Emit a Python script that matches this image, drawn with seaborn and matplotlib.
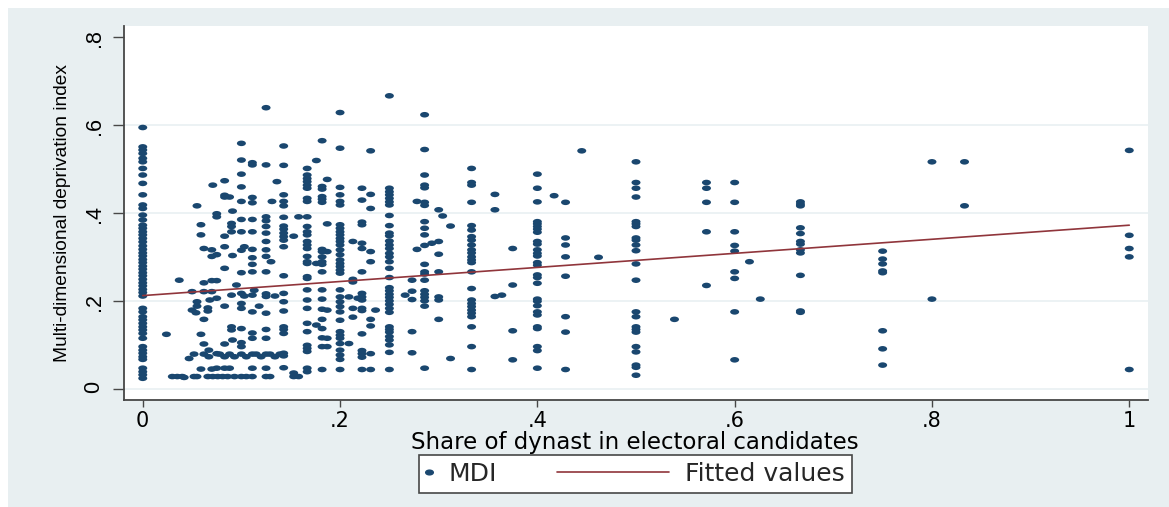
import matplotlib
matplotlib.use("Agg")
import matplotlib.pyplot as plt
import seaborn as sns
import pandas as pd
from matplotlib.path import Path
from matplotlib.transforms import Affine2D
from matplotlib.lines import Line2D
from matplotlib.legend_handler import HandlerLine2D
from matplotlib.patches import Rectangle

# ---------------- data ----------------
mdi_share_0 = [0.595, 0.551, 0.544, 0.536, 0.525, 0.517, 0.502, 0.487, 0.468, 0.442, 0.419, 0.411,
               0.396, 0.385, 0.373, 0.366, 0.358, 0.351, 0.343, 0.335, 0.326, 0.318, 0.310, 0.303,
               0.295, 0.288, 0.280, 0.273, 0.265, 0.258, 0.250, 0.242, 0.235, 0.227, 0.220, 0.212,
               0.184, 0.176, 0.165, 0.158, 0.150, 0.142, 0.135, 0.127, 0.116, 0.097, 0.089, 0.082,
               0.074, 0.068, 0.048, 0.040, 0.033, 0.025]
mdi_share_1_10 = [0.559, 0.521, 0.489, 0.460, 0.427, 0.386, 0.358, 0.316, 0.265, 0.218, 0.195, 0.184,
                  0.138, 0.106, 0.097, 0.080, 0.029]
mdi_share_1_9 = [0.515, 0.510, 0.436, 0.424, 0.386, 0.358, 0.318, 0.299, 0.284, 0.267, 0.214, 0.176,
                 0.128, 0.116, 0.080, 0.048, 0.029]
mdi_share_1_8 = [0.640, 0.510, 0.392, 0.383, 0.370, 0.355, 0.336, 0.317, 0.302, 0.267, 0.217, 0.211,
                 0.173, 0.136, 0.116, 0.080, 0.048, 0.029]
mdi_share_1_7 = [0.553, 0.509, 0.442, 0.427, 0.417, 0.391, 0.371, 0.364, 0.355, 0.347, 0.339, 0.324,
                 0.258, 0.218, 0.199, 0.178, 0.142, 0.136, 0.127, 0.082, 0.076, 0.049]
mdi_share_1_6 = [0.502, 0.487, 0.479, 0.472, 0.464, 0.457, 0.434, 0.427, 0.392, 0.370, 0.358, 0.351,
                 0.336, 0.328, 0.320, 0.302, 0.290, 0.286, 0.256, 0.252, 0.226, 0.203, 0.184, 0.150,
                 0.131, 0.100, 0.093, 0.086, 0.048, 0.040]
mdi_share_2_11 = [0.565, 0.461, 0.455, 0.438, 0.432, 0.425, 0.318, 0.313, 0.301, 0.290, 0.284, 0.267,
                  0.226, 0.205, 0.182, 0.159, 0.138, 0.117, 0.097, 0.045]
mdi_share_1_5 = [0.629, 0.548, 0.459, 0.442, 0.427, 0.419, 0.374, 0.366, 0.358, 0.351, 0.343, 0.336,
                 0.328, 0.317, 0.306, 0.294, 0.286, 0.279, 0.271, 0.264, 0.226, 0.210, 0.199, 0.188,
                 0.176, 0.157, 0.131, 0.123, 0.116, 0.104, 0.089, 0.078, 0.068, 0.045]
mdi_share_2_9 = [0.457, 0.430, 0.380, 0.374, 0.332, 0.320, 0.267, 0.218, 0.210, 0.203, 0.184, 0.179,
                 0.126, 0.088, 0.081, 0.073, 0.045]
mdi_share_1_4 = [0.667, 0.457, 0.449, 0.442, 0.434, 0.426, 0.419, 0.395, 0.372, 0.355, 0.349, 0.337,
                 0.328, 0.320, 0.309, 0.301, 0.290, 0.275, 0.254, 0.231, 0.224, 0.216, 0.209, 0.201,
                 0.193, 0.184, 0.175, 0.142, 0.136, 0.130, 0.120, 0.112, 0.101, 0.084, 0.045]
mdi_share_2_7 = [0.624, 0.545, 0.487, 0.464, 0.458, 0.425, 0.418, 0.381, 0.366, 0.351, 0.327, 0.284,
                 0.267, 0.262, 0.248, 0.224, 0.216, 0.209, 0.201, 0.189, 0.048]
mdi_share_3_10 = [0.408, 0.336, 0.307, 0.267, 0.210, 0.203, 0.159]
mdi_share_1_3 = [0.502, 0.470, 0.464, 0.425, 0.372, 0.362, 0.347, 0.339, 0.328, 0.317, 0.310, 0.301,
                 0.294, 0.288, 0.267, 0.229, 0.203, 0.195, 0.188, 0.180, 0.173, 0.165, 0.142, 0.097,
                 0.045]
mdi_share_3_8 = [0.320, 0.237, 0.133, 0.067]
mdi_share_2_5 = [0.489, 0.457, 0.426, 0.381, 0.376, 0.370, 0.364, 0.357, 0.336, 0.330, 0.317, 0.309,
                 0.303, 0.288, 0.282, 0.260, 0.254, 0.241, 0.205, 0.200, 0.190, 0.176, 0.169, 0.142,
                 0.138, 0.097, 0.088, 0.048]
mdi_share_3_7 = [0.425, 0.344, 0.328, 0.301, 0.257, 0.165, 0.130, 0.045]
mdi_share_1_2 = [0.517, 0.470, 0.457, 0.437, 0.381, 0.376, 0.370, 0.344, 0.339, 0.328, 0.315, 0.285,
                 0.248, 0.176, 0.165, 0.142, 0.136, 0.130, 0.097, 0.085, 0.055, 0.050, 0.032]
mdi_share_4_7 = [0.470, 0.457, 0.425, 0.358, 0.236]
mdi_share_3_5 = [0.470, 0.425, 0.358, 0.327, 0.314, 0.267, 0.252, 0.176, 0.067]
mdi_share_2_3 = [0.426, 0.421, 0.417, 0.367, 0.354, 0.336, 0.330, 0.317, 0.310, 0.259, 0.178, 0.175]
mdi_share_3_4 = [0.314, 0.296, 0.285, 0.269, 0.265, 0.133, 0.092, 0.055]
mdi_share_1 = [0.543, 0.350, 0.320, 0.301, 0.045]

low_share_points = [
    (0.024, 0.125), (0.037, 0.248), (0.030, 0.029), (0.035, 0.029), (0.040, 0.029), (0.042, 0.027),
    (0.052, 0.029), (0.055, 0.029), (0.066, 0.029), (0.071, 0.029), (0.047, 0.070), (0.052, 0.080),
    (0.055, 0.199), (0.050, 0.180), (0.054, 0.174), (0.055, 0.189), (0.050, 0.222), (0.055, 0.417),
    (0.059, 0.374), (0.059, 0.351), (0.062, 0.320), (0.062, 0.242), (0.062, 0.222), (0.062, 0.159),
    (0.059, 0.125), (0.062, 0.103), (0.059, 0.046), (0.062, 0.080), (0.066, 0.185), (0.066, 0.178),
    (0.071, 0.464), (0.070, 0.317), (0.070, 0.302), (0.070, 0.247), (0.070, 0.222), (0.067, 0.089),
    (0.067, 0.074), (0.070, 0.046), (0.083, 0.474), (0.083, 0.441), (0.083, 0.437), (0.088, 0.437),
    (0.075, 0.399), (0.075, 0.392), (0.091, 0.405), (0.090, 0.377), (0.090, 0.370), (0.090, 0.358),
    (0.083, 0.348), (0.075, 0.306), (0.083, 0.324), (0.091, 0.304), (0.103, 0.324), (0.083, 0.275),
    (0.075, 0.247), (0.095, 0.237), (0.090, 0.214), (0.103, 0.212), (0.075, 0.207), (0.083, 0.189),
    (0.068, 0.203), (0.090, 0.142), (0.090, 0.135), (0.083, 0.103), (0.091, 0.112), (0.075, 0.081),
    (0.078, 0.080), (0.083, 0.074), (0.088, 0.080), (0.093, 0.074), (0.105, 0.074), (0.115, 0.080),
    (0.120, 0.074), (0.129, 0.080), (0.134, 0.074), (0.139, 0.080), (0.075, 0.048), (0.083, 0.048),
    (0.088, 0.048), (0.076, 0.029), (0.081, 0.029), (0.086, 0.029), (0.093, 0.029), (0.105, 0.029),
    (0.129, 0.029), (0.113, 0.225), (0.118, 0.189), (0.131, 0.427), (0.130, 0.290), (0.134, 0.212),
    (0.136, 0.472), (0.153, 0.348), (0.153, 0.037), (0.153, 0.029), (0.158, 0.392), (0.158, 0.029),
]
mid_share_points = [
    (0.176, 0.520), (0.176, 0.286), (0.176, 0.146), (0.187, 0.477), (0.187, 0.376), (0.187, 0.313),
    (0.187, 0.180), (0.187, 0.116), (0.187, 0.097), (0.209, 0.210), (0.209, 0.104), (0.213, 0.336),
    (0.213, 0.250), (0.213, 0.244), (0.213, 0.184), (0.213, 0.164), (0.218, 0.207), (0.231, 0.542),
    (0.231, 0.443), (0.231, 0.411), (0.231, 0.313), (0.231, 0.290), (0.231, 0.159), (0.231, 0.144),
    (0.231, 0.081), (0.231, 0.045), (0.236, 0.180), (0.266, 0.214), (0.273, 0.248), (0.273, 0.223),
    (0.273, 0.204), (0.273, 0.131), (0.273, 0.083), (0.278, 0.427), (0.278, 0.318), (0.293, 0.332),
    (0.304, 0.394), (0.312, 0.371), (0.312, 0.070), (0.357, 0.443), (0.357, 0.408), (0.357, 0.211),
    (0.364, 0.214),
]
high_share_points = [
    (0.417, 0.440), (0.445, 0.542), (0.462, 0.300), (0.539, 0.159), (0.615, 0.290), (0.626, 0.205),
    (0.800, 0.517), (0.800, 0.205), (0.833, 0.517), (0.833, 0.417),
]

fitted_share = [0.0, 1.0]
fitted_mdi = [0.213, 0.373]

x_tick_values = [0, 0.2, 0.4, 0.6, 0.8, 1.0]
x_tick_labels = ["0", ".2", ".4", ".6", ".8", "1"]
y_tick_values = [0, 0.2, 0.4, 0.6, 0.8]
y_tick_labels = ["0", ".2", ".4", ".6", ".8"]
grid_levels = [0, 0.2, 0.4, 0.6]
legend_labels = ["MDI", "Fitted values"]

# ---------------- assemble ----------------
columns = [
    (0.0, mdi_share_0), (1 / 10, mdi_share_1_10), (1 / 9, mdi_share_1_9), (1 / 8, mdi_share_1_8),
    (1 / 7, mdi_share_1_7), (1 / 6, mdi_share_1_6), (2 / 11, mdi_share_2_11), (1 / 5, mdi_share_1_5),
    (2 / 9, mdi_share_2_9), (1 / 4, mdi_share_1_4), (2 / 7, mdi_share_2_7), (3 / 10, mdi_share_3_10),
    (1 / 3, mdi_share_1_3), (3 / 8, mdi_share_3_8), (2 / 5, mdi_share_2_5), (3 / 7, mdi_share_3_7),
    (1 / 2, mdi_share_1_2), (4 / 7, mdi_share_4_7), (3 / 5, mdi_share_3_5), (2 / 3, mdi_share_2_3),
    (3 / 4, mdi_share_3_4), (1.0, mdi_share_1),
]
rows = []
for s, ys in columns:
    rows += [(s, y) for y in ys]
for pts in (low_share_points, mid_share_points, high_share_points):
    rows += list(pts)
df = pd.DataFrame(rows, columns=["share", "mdi"])

# ---------------- style ----------------
sns.set_style("white")
plt.rcParams["font.family"] = ["DejaVu Sans"]
NARROW = ["Liberation Sans", "DejaVu Sans"]

NAVY = "#1a476f"
MAROON = "#90353b"
OUTER = "#e8eff1"
AXISCOL = "#474747"
GRIDCOL = "#eaf1f3"

ellipse = Path.unit_circle().transformed(Affine2D().scale(1.0, 0.62))

W, H = 1169, 507
fig = plt.figure(figsize=(W / 100, H / 100), dpi=100, facecolor="white")
fig.add_artist(Rectangle((8 / W, 0), 1, 1 - 8 / H, transform=fig.transFigure,
                         facecolor=OUTER, edgecolor="none", zorder=-10))
ax = fig.add_axes([124 / W, 1 - 400 / H, 1024 / W, 374 / H])
ax.set_facecolor("white")

for g in grid_levels:
    ax.axhline(g, color=GRIDCOL, linewidth=1.3, zorder=0.5)

sns.scatterplot(data=df, x="share", y="mdi", marker=ellipse, s=42, color=NAVY,
                edgecolor="none", linewidth=0, ax=ax, legend=False, zorder=3)
sns.lineplot(x=fitted_share, y=fitted_mdi, color=MAROON, linewidth=1.2, ax=ax,
             legend=False, zorder=4)

ax.set_xlim(-0.019, 1.019)
ax.set_ylim(-0.0243, 0.8257)
ax.set_xticks(x_tick_values)
ax.set_xticklabels(x_tick_labels)
ax.set_yticks(y_tick_values)
ax.set_yticklabels(y_tick_labels)

for side in ("top", "right"):
    ax.spines[side].set_visible(False)
for side in ("left", "bottom"):
    ax.spines[side].set_color(AXISCOL)
    ax.spines[side].set_linewidth(1.3)

ax.tick_params(axis="x", length=5, width=1, color=AXISCOL, pad=3, labelsize=15,
               labelcolor="black", bottom=True)
ax.tick_params(axis="y", length=8, width=1, color=AXISCOL, pad=6, labelsize=15.5,
               labelcolor="black", labelrotation=90, left=True)
for lbl in ax.get_yticklabels():
    lbl.set_family(NARROW)

ax.set_xlabel("Share of dynast in electoral candidates", fontsize=16.5, color="black")
ax.xaxis.set_label_coords(0.499, -0.082)
ax.set_ylabel("Multi-dimensional deprivation index", fontsize=13.8, color="black", family=NARROW)
ax.yaxis.set_label_coords(-0.052, 0.5)


class NarrowMarkerHandler(HandlerLine2D):
    def legend_artist(self, legend, orig_handle, fontsize, handlebox):
        handlebox.width = 0.25 * fontsize
        return super().legend_artist(legend, orig_handle, fontsize, handlebox)


h_mdi = Line2D([], [], marker=ellipse, linestyle="none", color=NAVY, markersize=5.5)
h_fit = Line2D([], [], color=MAROON, linewidth=1.2)
leg = fig.legend([h_mdi, h_fit], legend_labels, loc="center",
                 bbox_to_anchor=(635.5 / W, 1 - 474 / H), ncol=2, fontsize=18,
                 frameon=True, fancybox=False, edgecolor=AXISCOL, facecolor="white",
                 framealpha=1, handlelength=4.48, handletextpad=0.65, columnspacing=2.4,
                 borderpad=0.28, handler_map={h_mdi: NarrowMarkerHandler()})
leg.get_frame().set_linewidth(1.2)

fig.savefig("out.png", dpi=100, facecolor=fig.get_facecolor())
